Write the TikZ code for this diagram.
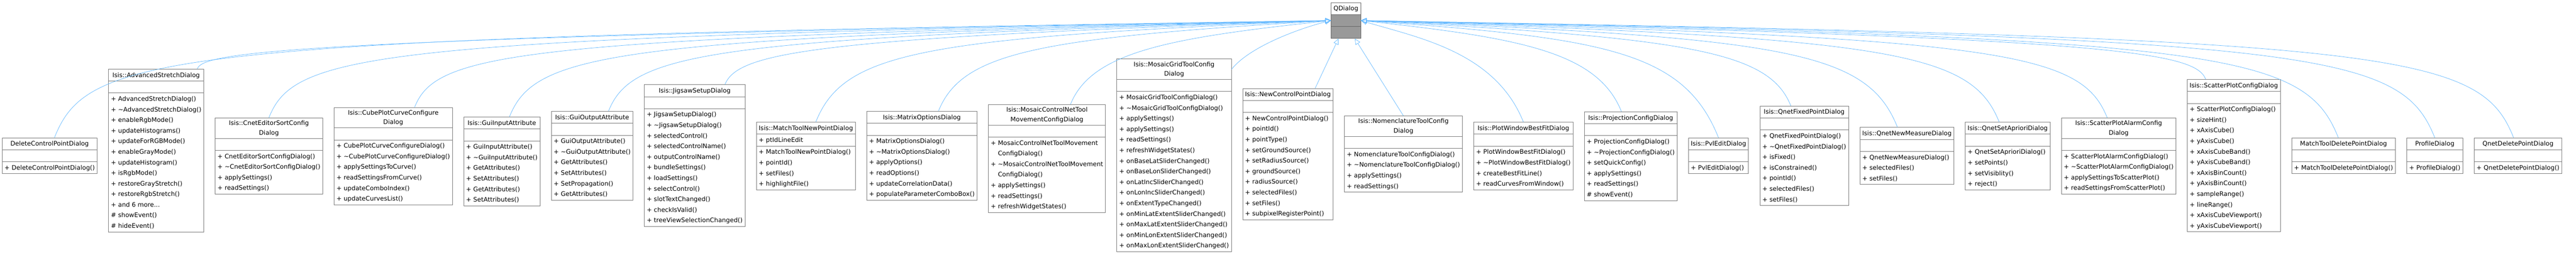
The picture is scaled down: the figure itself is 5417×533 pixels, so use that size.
\documentclass[tikz,border=0pt]{standalone}
\usepackage{fontspec}
\setmainfont{DejaVu Sans}
\usetikzlibrary{shapes.multipart,arrows.meta,calc}
\definecolor{edgec}{HTML}{63B8FF}
\definecolor{boxc}{HTML}{7A7A7A}
\newcommand\tl[1]{\begin{tabular}{@{}c@{}}#1\end{tabular}}
\newcommand\tlt[1]{{\renewcommand\arraystretch{0.9}\begin{tabular}{@{}c@{}}#1\end{tabular}}}
\newcommand\ml[1]{\begin{tabular}{@{}l@{}}#1\end{tabular}}
\newcommand\pp{\phantom{+ }}
\newcommand\tld{\textasciitilde}
\tikzset{
  cls/.style={rectangle split, rectangle split parts=3, draw=boxc, line width=0.9pt,
    fill=white, inner xsep=5pt, inner ysep=1pt, font=\fontsize{13.1}{22.3}\selectfont,
    rectangle split part align={center,left,left}, anchor=north west},
  base/.style={cls, fill=none, rectangle split part fill={white,gray!80,gray!80}, draw=gray!80!black},
  edge/.style={draw=edgec, line width=0.8pt, -{Triangle[open,length=12pt,width=11pt]}}
}
% #1 name, #2 previous, #3 top y, #4 title, #5 attrs, #6 methods
\newcommand\cls[6]{\path let \p1=(#2.north east) in
  node[cls] (#1) at (\x1+23pt,-#3pt) {#4\nodepart{two}\ml{#5}\nodepart{three}\ml{#6}};}
\newcommand\lc[2]{\draw[edge] let \p1=($(#1.north west)!#2!(#1.north east)$), \n1={0.4*(-110-\y1/1pt)} in
  (\p1) .. controls (\x1+\n1*1pt,-110pt) and (\x1+\n1*1pt+160pt,-80pt) .. (q.west);}
\newcommand\rc[2]{\draw[edge] let \p1=($(#1.north west)!#2!(#1.north east)$), \n1={0.4*(-110-\y1/1pt)} in
  (\p1) .. controls (\x1-\n1*1pt,-110pt) and (\x1-\n1*1pt-160pt,-80pt) .. (q.east);}
\begin{document}
\begin{tikzpicture}[x=1pt,y=1pt]
\useasboundingbox (0,0) rectangle (5417,-533);
\coordinate (start) at (-19,0);
\cls{c1}{start}{290}{\tl{DeleteControlPointDialog}}{\mbox{}}{+ DeleteControlPointDialog()}
\cls{c2}{c1}{145}{\tl{Isis::AdvancedStretchDialog}}{\mbox{}}{+ AdvancedStretchDialog()\\+ \tld AdvancedStretchDialog()\\+ enableRgbMode()\\+ updateHistograms()\\+ updateForRGBMode()\\+ enableGrayMode()\\+ updateHistogram()\\+ isRgbMode()\\+ restoreGrayStretch()\\+ restoreRgbStretch()\\+ and 6 more...\\\# showEvent()\\\# hideEvent()}
\cls{c3}{c2}{248}{\tlt{Isis::CnetEditorSortConfig\\Dialog}}{\mbox{}}{+ CnetEditorSortConfigDialog()\\+ \tld CnetEditorSortConfigDialog()\\+ applySettings()\\+ readSettings()}
\cls{c4}{c3}{226}{\tlt{Isis::CubePlotCurveConfigure\\Dialog}}{\mbox{}}{+ CubePlotCurveConfigureDialog()\\+ \tld CubePlotCurveConfigureDialog()\\+ applySettingsToCurve()\\+ readSettingsFromCurve()\\+ updateComboIndex()\\+ updateCurvesList()}
\cls{c5}{c4}{246}{\tl{Isis::GuiInputAttribute}}{\mbox{}}{+ GuiInputAttribute()\\+ \tld GuiInputAttribute()\\+ GetAttributes()\\+ SetAttributes()\\+ GetAttributes()\\+ SetAttributes()}
\cls{c6}{c5}{234}{\tl{Isis::GuiOutputAttribute}}{\mbox{}}{+ GuiOutputAttribute()\\+ \tld GuiOutputAttribute()\\+ GetAttributes()\\+ SetAttributes()\\+ SetPropagation()\\+ GetAttributes()}
\cls{c7}{c6}{178}{\tl{Isis::JigsawSetupDialog}}{\mbox{}}{+ JigsawSetupDialog()\\+ \tld JigsawSetupDialog()\\+ selectedControl()\\+ selectedControlName()\\+ outputControlName()\\+ bundleSettings()\\+ loadSettings()\\+ selectControl()\\+ slotTextChanged()\\+ checkIsValid()\\+ treeViewSelectionChanged()}
\cls{c8}{c7}{257}{\tl{Isis::MatchToolNewPointDialog}}{+ ptIdLineEdit}{+ MatchToolNewPointDialog()\\+ pointId()\\+ setFiles()\\+ highlightFile()}
\cls{c9}{c8}{234}{\tl{Isis::MatrixOptionsDialog}}{\mbox{}}{+ MatrixOptionsDialog()\\+ \tld MatrixOptionsDialog()\\+ applyOptions()\\+ readOptions()\\+ updateCorrelationData()\\+ populateParameterComboBox()}
\cls{c10}{c9}{220}{\tlt{Isis::MosaicControlNetTool\\MovementConfigDialog}}{\mbox{}}{+ MosaicControlNetToolMovement\\\pp ConfigDialog()\\+ \tld MosaicControlNetToolMovement\\\pp ConfigDialog()\\+ applySettings()\\+ readSettings()\\+ refreshWidgetStates()}
\cls{c11}{c10}{124}{\tlt{Isis::MosaicGridToolConfig\\Dialog}}{\mbox{}}{+ MosaicGridToolConfigDialog()\\+ \tld MosaicGridToolConfigDialog()\\+ applySettings()\\+ applySettings()\\+ readSettings()\\+ refreshWidgetStates()\\+ onBaseLatSliderChanged()\\+ onBaseLonSliderChanged()\\+ onLatIncSliderChanged()\\+ onLonIncSliderChanged()\\+ onExtentTypeChanged()\\+ onMinLatExtentSliderChanged()\\+ onMaxLatExtentSliderChanged()\\+ onMinLonExtentSliderChanged()\\+ onMaxLonExtentSliderChanged()}
\cls{c12}{c11}{186}{\tl{Isis::NewControlPointDialog}}{\mbox{}}{+ NewControlPointDialog()\\+ pointId()\\+ pointType()\\+ setGroundSource()\\+ setRadiusSource()\\+ groundSource()\\+ radiusSource()\\+ selectedFiles()\\+ setFiles()\\+ subpixelRegisterPoint()}
\path let \p1=(c12.north east) in node[base] (q) at (\x1-5pt,-5pt) {\tl{QDialog}\nodepart{two}\ml{\mbox{}}\nodepart{three}\ml{\mbox{}}};
\cls{c13}{c12}{244}{\tlt{Isis::NomenclatureToolConfig\\Dialog}}{\mbox{}}{+ NomenclatureToolConfigDialog()\\+ \tld NomenclatureToolConfigDialog()\\+ applySettings()\\+ readSettings()}
\cls{c14}{c13}{257}{\tl{Isis::PlotWindowBestFitDialog}}{\mbox{}}{+ PlotWindowBestFitDialog()\\+ \tld PlotWindowBestFitDialog()\\+ createBestFitLine()\\+ readCurvesFromWindow()}
\cls{c15}{c14}{235}{\tl{Isis::ProjectionConfigDialog}}{\mbox{}}{+ ProjectionConfigDialog()\\+ \tld ProjectionConfigDialog()\\+ setQuickConfig()\\+ applySettings()\\+ readSettings()\\\# showEvent()}
\cls{c16}{c15}{290}{\tl{Isis::PvlEditDialog}}{\mbox{}}{+ PvlEditDialog()}
\cls{c17}{c16}{223}{\tl{Isis::QnetFixedPointDialog}}{\mbox{}}{+ QnetFixedPointDialog()\\+ \tld QnetFixedPointDialog()\\+ isFixed()\\+ isConstrained()\\+ pointId()\\+ selectedFiles()\\+ setFiles()}
\cls{c18}{c17}{268}{\tl{Isis::QnetNewMeasureDialog}}{\mbox{}}{+ QnetNewMeasureDialog()\\+ selectedFiles()\\+ setFiles()}
\cls{c19}{c18}{257}{\tl{Isis::QnetSetAprioriDialog}}{\mbox{}}{+ QnetSetAprioriDialog()\\+ setPoints()\\+ setVisiblity()\\+ reject()}
\cls{c20}{c19}{248}{\tlt{Isis::ScatterPlotAlarmConfig\\Dialog}}{\mbox{}}{+ ScatterPlotAlarmConfigDialog()\\+ \tld ScatterPlotAlarmConfigDialog()\\+ applySettingsToScatterPlot()\\+ readSettingsFromScatterPlot()}
\cls{c21}{c20}{167}{\tl{Isis::ScatterPlotConfigDialog}}{\mbox{}}{+ ScatterPlotConfigDialog()\\+ sizeHint()\\+ xAxisCube()\\+ yAxisCube()\\+ xAxisCubeBand()\\+ yAxisCubeBand()\\+ xAxisBinCount()\\+ yAxisBinCount()\\+ sampleRange()\\+ lineRange()\\+ xAxisCubeViewport()\\+ yAxisCubeViewport()}
\cls{c22}{c21}{290}{\tl{MatchToolDeletePointDialog}}{\mbox{}}{+ MatchToolDeletePointDialog()}
\cls{c23}{c22}{290}{\tl{ProfileDialog}}{\mbox{}}{+ ProfileDialog()}
\cls{c24}{c23}{290}{\tl{QnetDeletePointDialog}}{\mbox{}}{+ QnetDeletePointDialog()}
% connectors
\lc{c1}{0.55}\lc{c2}{0.93}\lc{c3}{0.5}\lc{c4}{0.68}\lc{c5}{0.6}\lc{c6}{0.7}
\lc{c7}{0.8}\lc{c8}{0.6}\lc{c9}{0.65}\lc{c10}{0.7}
\draw[edge] ($(c11.north east)+(0,-22)$) .. controls +(40,50) and +(-60,-15) .. (q.west);
\draw[edge] ($(c12.north west)!0.8!(c12.north east)$) -- ($(q.south west)!0.25!(q.south east)$);
\draw[edge] ($(c13.north west)!0.5!(c13.north east)$) -- ($(q.south west)!0.8!(q.south east)$);
\rc{c14}{0.5}\rc{c15}{0.4}\rc{c16}{0.5}\rc{c17}{0.35}\rc{c18}{0.4}\rc{c19}{0.4}
\rc{c20}{0.4}\rc{c21}{0.2}\rc{c22}{0.45}\rc{c23}{0.5}\rc{c24}{0.45}
\end{tikzpicture}
\end{document}
